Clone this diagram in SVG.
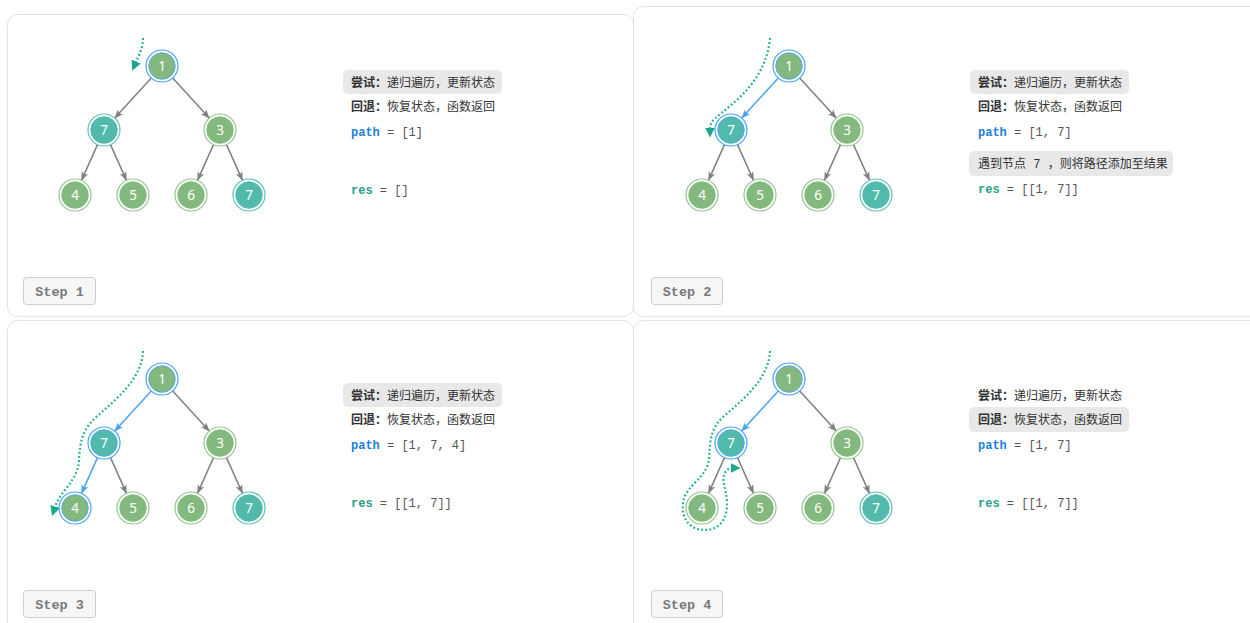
<svg xmlns="http://www.w3.org/2000/svg" width="1250" height="623" viewBox="0 0 1250 623">
<style>
.panel{fill:#fff;stroke:#e2e2e2;stroke-width:1}
.hlbox{fill:#e8e8e8}
.cn{font-family:"Noto Sans CJK SC","Noto Sans",sans-serif;font-size:12px;fill:#333}
.b{font-weight:bold}
.mono{font-family:"Liberation Mono","DejaVu Sans Mono",monospace;font-size:12px;fill:#555}
.kp{fill:#1b7fd6;font-weight:bold}
.kr{fill:#2b9f8a;font-weight:bold}
.sp{font-family:"Liberation Mono","DejaVu Sans Mono",monospace}
.stepbox{fill:#f6f6f6;stroke:#cdcdcd;stroke-width:1}
.steptxt{font-family:"Liberation Mono","DejaVu Sans Mono",monospace;font-weight:bold;font-size:13.5px;fill:#7a7a7a}
.edge{stroke:#808080;stroke-width:1.5;fill:none;marker-end:url(#ag)}
.edge.on{stroke:#4aa3f0;marker-end:url(#ab)}
.ring{fill:none;stroke-width:1.2}
.core{stroke-width:0.8}
.gr .core{fill:#83b97e;stroke:#83b97e}
.gr .ring{stroke:#93c68f}
.tl .core{fill:#52baad;stroke:#52baad}
.tl .ring{stroke:#5cc2b6}
.node.sel .ring{stroke:#4aa3f0}
.node.sel .core{stroke:#4aa3f0}
.num{font-family:"Noto Sans","DejaVu Sans",sans-serif;font-size:13.5px;fill:#fff;text-anchor:middle}
.trail{fill:none;stroke:#22ae95;stroke-width:2.2;stroke-dasharray:1.8 2.3;marker-end:url(#at)}
</style>
<defs>
<marker id="ag" markerUnits="userSpaceOnUse" markerWidth="9" markerHeight="8" viewBox="0 0 9 8" refX="8.5" refY="4" orient="auto"><path d="M0,0.5 L9,4 L0,7.5 L2,4 z" fill="#808080"/></marker>
<marker id="ab" markerUnits="userSpaceOnUse" markerWidth="9" markerHeight="8" viewBox="0 0 9 8" refX="8.5" refY="4" orient="auto"><path d="M0,0.5 L9,4 L0,7.5 L2,4 z" fill="#4aa3f0"/></marker>
<marker id="at" markerUnits="userSpaceOnUse" markerWidth="10" markerHeight="10" viewBox="0 0 10 10" refX="0.5" refY="5" orient="auto"><path d="M0,0 L10,5 L0,10 z" fill="#1aa68a"/></marker>
</defs>

<rect class="panel" x="7.5" y="14.5" width="626" height="302" rx="10"/>
<rect class="panel" x="633.5" y="6.5" width="640" height="310" rx="10"/>
<rect class="panel" x="7.5" y="320.5" width="626" height="320" rx="10"/>
<rect class="panel" x="633.5" y="320.5" width="640" height="320" rx="10"/>

<!-- STEP 1 -->
<g id="step1">
<g id="s1-connectors">
<line class="edge" x1="151.3" y1="77.9" x2="114.7" y2="118.1"/>
<line class="edge" x1="172.7" y1="77.9" x2="209.3" y2="118.1"/>
<line class="edge" x1="97.5" y1="144.6" x2="81.5" y2="180.4"/>
<line class="edge" x1="110.5" y1="144.6" x2="126.5" y2="180.4"/>
<line class="edge" x1="213.5" y1="144.6" x2="197.5" y2="180.4"/>
<line class="edge" x1="226.5" y1="144.6" x2="242.5" y2="180.4"/>
<path class="trail" d="M143,38 C143,48 139,55 136,62"/>
</g>
<g id="s1-n1" class="node gr sel"><circle class="ring" cx="162" cy="66" r="16"/><circle class="core" cx="162" cy="66" r="13.3"/><text class="num" x="162" y="70.5">1</text></g>
<g id="s1-n7a" class="node tl"><circle class="ring" cx="104" cy="130" r="16"/><circle class="core" cx="104" cy="130" r="13.3"/><text class="num" x="104" y="134.5">7</text></g>
<g id="s1-n3" class="node gr"><circle class="ring" cx="220" cy="130" r="16"/><circle class="core" cx="220" cy="130" r="13.3"/><text class="num" x="220" y="134.5">3</text></g>
<g id="s1-n4" class="node gr"><circle class="ring" cx="75" cy="195" r="16"/><circle class="core" cx="75" cy="195" r="13.3"/><text class="num" x="75" y="199.5">4</text></g>
<g id="s1-n5" class="node gr"><circle class="ring" cx="133" cy="195" r="16"/><circle class="core" cx="133" cy="195" r="13.3"/><text class="num" x="133" y="199.5">5</text></g>
<g id="s1-n6" class="node gr"><circle class="ring" cx="191" cy="195" r="16"/><circle class="core" cx="191" cy="195" r="13.3"/><text class="num" x="191" y="199.5">6</text></g>
<g id="s1-n7b" class="node tl"><circle class="ring" cx="249" cy="195" r="16"/><circle class="core" cx="249" cy="195" r="13.3"/><text class="num" x="249" y="199.5">7</text></g>
<g id="s1-text">
<rect class="hlbox" x="343" y="70" width="159" height="24" rx="5"/>
<text class="cn" x="351" y="86.5"><tspan class="b">尝试：</tspan>递归遍历，更新状态</text>
<text class="cn" x="351" y="111"><tspan class="b">回退：</tspan>恢复状态，函数返回</text>
<text class="mono" x="351" y="136"><tspan class="kp">path</tspan> = [1]</text>
<text class="mono" x="351" y="194"><tspan class="kr">res</tspan> = []</text>
</g>
<g id="s1-label"><rect class="stepbox" x="23.5" y="277.5" width="72" height="27" rx="3"/><text class="steptxt" x="59.5" y="295.5" text-anchor="middle">Step 1</text></g>
</g>

<!-- STEP 2 -->
<g id="step2" transform="translate(627,0)">
<g id="s2-connectors">
<line class="edge on" x1="151.3" y1="77.9" x2="114.7" y2="118.1"/>
<line class="edge" x1="172.7" y1="77.9" x2="209.3" y2="118.1"/>
<line class="edge" x1="97.5" y1="144.6" x2="81.5" y2="180.4"/>
<line class="edge" x1="110.5" y1="144.6" x2="126.5" y2="180.4"/>
<line class="edge" x1="213.5" y1="144.6" x2="197.5" y2="180.4"/>
<line class="edge" x1="226.5" y1="144.6" x2="242.5" y2="180.4"/>
<path class="trail" d="M143,38 C140,70 122,90 103,106 C90,117 83,121 83,128"/>
</g>
<g id="s2-n1" class="node gr sel"><circle class="ring" cx="162" cy="66" r="16"/><circle class="core" cx="162" cy="66" r="13.3"/><text class="num" x="162" y="70.5">1</text></g>
<g id="s2-n7a" class="node tl sel"><circle class="ring" cx="104" cy="130" r="16"/><circle class="core" cx="104" cy="130" r="13.3"/><text class="num" x="104" y="134.5">7</text></g>
<g id="s2-n3" class="node gr"><circle class="ring" cx="220" cy="130" r="16"/><circle class="core" cx="220" cy="130" r="13.3"/><text class="num" x="220" y="134.5">3</text></g>
<g id="s2-n4" class="node gr"><circle class="ring" cx="75" cy="195" r="16"/><circle class="core" cx="75" cy="195" r="13.3"/><text class="num" x="75" y="199.5">4</text></g>
<g id="s2-n5" class="node gr"><circle class="ring" cx="133" cy="195" r="16"/><circle class="core" cx="133" cy="195" r="13.3"/><text class="num" x="133" y="199.5">5</text></g>
<g id="s2-n6" class="node gr"><circle class="ring" cx="191" cy="195" r="16"/><circle class="core" cx="191" cy="195" r="13.3"/><text class="num" x="191" y="199.5">6</text></g>
<g id="s2-n7b" class="node tl"><circle class="ring" cx="249" cy="195" r="16"/><circle class="core" cx="249" cy="195" r="13.3"/><text class="num" x="249" y="199.5">7</text></g>
<g id="s2-text">
<rect class="hlbox" x="343" y="70" width="159" height="24" rx="5"/>
<text class="cn" x="351" y="86.5"><tspan class="b">尝试：</tspan>递归遍历，更新状态</text>
<text class="cn" x="351" y="111"><tspan class="b">回退：</tspan>恢复状态，函数返回</text>
<text class="mono" x="351" y="136"><tspan class="kp">path</tspan> = [1, 7]</text>
<rect class="hlbox" x="342" y="151" width="204" height="25" rx="5"/>
<text class="cn" x="351" y="168">遇到节点<tspan class="sp"> 7 </tspan>，则将路径添加至结果</text>
<text class="mono" x="351" y="193"><tspan class="kr">res</tspan> = [[1, 7]]</text>
</g>
<g id="s2-label"><rect class="stepbox" x="24.5" y="277.5" width="71" height="27" rx="3"/><text class="steptxt" x="60" y="295.5" text-anchor="middle">Step 2</text></g>
</g>

<!-- STEP 3 -->
<g id="step3" transform="translate(0,313)">
<g id="s3-connectors">
<line class="edge on" x1="151.3" y1="77.9" x2="114.7" y2="118.1"/>
<line class="edge" x1="172.7" y1="77.9" x2="209.3" y2="118.1"/>
<line class="edge on" x1="97.5" y1="144.6" x2="81.5" y2="180.4"/>
<line class="edge" x1="110.5" y1="144.6" x2="126.5" y2="180.4"/>
<line class="edge" x1="213.5" y1="144.6" x2="197.5" y2="180.4"/>
<line class="edge" x1="226.5" y1="144.6" x2="242.5" y2="180.4"/>
<path class="trail" d="M143,38 C142,65 118,85 95,105 C83,117 80,127 79,147 C78,168 60,178 55,194"/>
</g>
<g id="s3-n1" class="node gr sel"><circle class="ring" cx="162" cy="66" r="16"/><circle class="core" cx="162" cy="66" r="13.3"/><text class="num" x="162" y="70.5">1</text></g>
<g id="s3-n7a" class="node tl sel"><circle class="ring" cx="104" cy="130" r="16"/><circle class="core" cx="104" cy="130" r="13.3"/><text class="num" x="104" y="134.5">7</text></g>
<g id="s3-n3" class="node gr"><circle class="ring" cx="220" cy="130" r="16"/><circle class="core" cx="220" cy="130" r="13.3"/><text class="num" x="220" y="134.5">3</text></g>
<g id="s3-n4" class="node gr sel"><circle class="ring" cx="75" cy="195" r="16"/><circle class="core" cx="75" cy="195" r="13.3"/><text class="num" x="75" y="199.5">4</text></g>
<g id="s3-n5" class="node gr"><circle class="ring" cx="133" cy="195" r="16"/><circle class="core" cx="133" cy="195" r="13.3"/><text class="num" x="133" y="199.5">5</text></g>
<g id="s3-n6" class="node gr"><circle class="ring" cx="191" cy="195" r="16"/><circle class="core" cx="191" cy="195" r="13.3"/><text class="num" x="191" y="199.5">6</text></g>
<g id="s3-n7b" class="node tl"><circle class="ring" cx="249" cy="195" r="16"/><circle class="core" cx="249" cy="195" r="13.3"/><text class="num" x="249" y="199.5">7</text></g>
<g id="s3-text">
<rect class="hlbox" x="343" y="70" width="159" height="24" rx="5"/>
<text class="cn" x="351" y="86.5"><tspan class="b">尝试：</tspan>递归遍历，更新状态</text>
<text class="cn" x="351" y="111"><tspan class="b">回退：</tspan>恢复状态，函数返回</text>
<text class="mono" x="351" y="136"><tspan class="kp">path</tspan> = [1, 7, 4]</text>
<text class="mono" x="351" y="194"><tspan class="kr">res</tspan> = [[1, 7]]</text>
</g>
<g id="s3-label"><rect class="stepbox" x="23.5" y="277.5" width="72" height="27" rx="3"/><text class="steptxt" x="59.5" y="295.5" text-anchor="middle">Step 3</text></g>
</g>

<!-- STEP 4 -->
<g id="step4" transform="translate(627,313)">
<g id="s4-connectors">
<line class="edge on" x1="151.3" y1="77.9" x2="114.7" y2="118.1"/>
<line class="edge" x1="172.7" y1="77.9" x2="209.3" y2="118.1"/>
<line class="edge" x1="97.5" y1="144.6" x2="81.5" y2="180.4"/>
<line class="edge" x1="110.5" y1="144.6" x2="126.5" y2="180.4"/>
<line class="edge" x1="213.5" y1="144.6" x2="197.5" y2="180.4"/>
<line class="edge" x1="226.5" y1="144.6" x2="242.5" y2="180.4"/>
<path class="trail" d="M143,38 C142,65 118,85 96,104 C85,114 83,125 82,145 C81,165 58,172 56,190 C54,207 64,217 78,217 C93,217 101,205 100,188 C99,176 95,168 97,162 C99,157 102,155 104,155"/>
</g>
<g id="s4-n1" class="node gr sel"><circle class="ring" cx="162" cy="66" r="16"/><circle class="core" cx="162" cy="66" r="13.3"/><text class="num" x="162" y="70.5">1</text></g>
<g id="s4-n7a" class="node tl sel"><circle class="ring" cx="104" cy="130" r="16"/><circle class="core" cx="104" cy="130" r="13.3"/><text class="num" x="104" y="134.5">7</text></g>
<g id="s4-n3" class="node gr"><circle class="ring" cx="220" cy="130" r="16"/><circle class="core" cx="220" cy="130" r="13.3"/><text class="num" x="220" y="134.5">3</text></g>
<g id="s4-n4" class="node gr"><circle class="ring" cx="75" cy="195" r="16"/><circle class="core" cx="75" cy="195" r="13.3"/><text class="num" x="75" y="199.5">4</text></g>
<g id="s4-n5" class="node gr"><circle class="ring" cx="133" cy="195" r="16"/><circle class="core" cx="133" cy="195" r="13.3"/><text class="num" x="133" y="199.5">5</text></g>
<g id="s4-n6" class="node gr"><circle class="ring" cx="191" cy="195" r="16"/><circle class="core" cx="191" cy="195" r="13.3"/><text class="num" x="191" y="199.5">6</text></g>
<g id="s4-n7b" class="node tl"><circle class="ring" cx="249" cy="195" r="16"/><circle class="core" cx="249" cy="195" r="13.3"/><text class="num" x="249" y="199.5">7</text></g>
<g id="s4-text">
<text class="cn" x="351" y="86.5"><tspan class="b">尝试：</tspan>递归遍历，更新状态</text>
<rect class="hlbox" x="342" y="94" width="160" height="25" rx="5"/>
<text class="cn" x="351" y="111"><tspan class="b">回退：</tspan>恢复状态，函数返回</text>
<text class="mono" x="351" y="136"><tspan class="kp">path</tspan> = [1, 7]</text>
<text class="mono" x="351" y="194"><tspan class="kr">res</tspan> = [[1, 7]]</text>
</g>
<g id="s4-label"><rect class="stepbox" x="24.5" y="277.5" width="71" height="27" rx="3"/><text class="steptxt" x="60" y="295.5" text-anchor="middle">Step 4</text></g>
</g>
</svg>
